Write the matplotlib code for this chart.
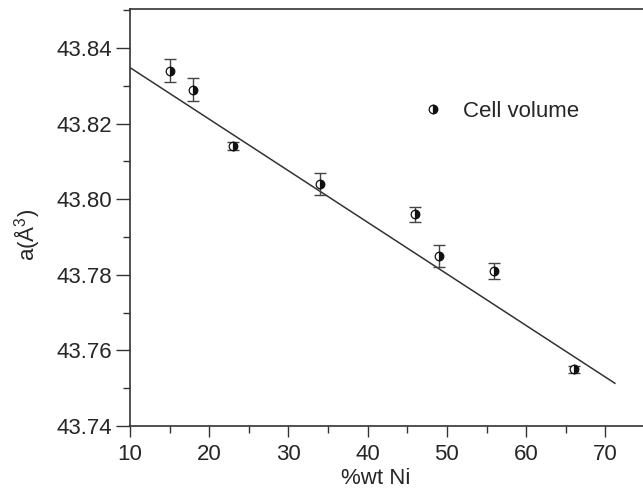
import matplotlib
matplotlib.use("Agg")
import matplotlib.pyplot as plt
from matplotlib.lines import Line2D
from matplotlib.ticker import MultipleLocator, FormatStrFormatter

# Data
ni_wt = [15, 18, 23, 34, 46, 49, 56, 66]
cell = [43.834, 43.829, 43.814, 43.804, 43.796, 43.785, 43.781, 43.755]
cell_err = [0.003, 0.003, 0.001, 0.003, 0.002, 0.003, 0.002, 0.001]
fit_x = [10, 71.2]
fit_y = [43.8348, 43.7513]

plt.rcParams['font.family'] = ['Liberation Sans', 'DejaVu Sans']
plt.rcParams['mathtext.fontset'] = 'custom'
plt.rcParams['mathtext.rm'] = 'Liberation Sans'
txt = '#262626'

fig = plt.figure(figsize=(6.43, 4.90), dpi=100)
ax = fig.add_axes([130/643, 64/490, 515/643, (426-9)/490])

ax.plot(fit_x, fit_y, color='#333333', lw=1.1, zorder=2)
ax.errorbar(ni_wt, cell, yerr=cell_err, fmt='none', ecolor='#444444',
            elinewidth=1.0, capsize=4.2, capthick=1.0, zorder=3)
ax.plot(ni_wt, cell, ls='none', marker='o', ms=6.2, fillstyle='right',
        markerfacecolor='#111111', markerfacecoloralt='white',
        markeredgecolor='#111111', markeredgewidth=0.9, zorder=4)

ax.set_xlim(10, 75)
ax.set_ylim(43.74, 43.8503)
ax.xaxis.set_major_locator(MultipleLocator(10))
ax.xaxis.set_minor_locator(MultipleLocator(5))
ax.yaxis.set_major_locator(MultipleLocator(0.02))
ax.yaxis.set_minor_locator(MultipleLocator(0.01))
ax.yaxis.set_major_formatter(FormatStrFormatter('%.2f'))

ax.tick_params(which='major', direction='out', length=10, width=1.0,
               color='#333333', labelsize=16, labelcolor=txt, pad=3)
ax.tick_params(axis='x', which='major', length=8, pad=5)
ax.tick_params(which='minor', direction='out', length=5, width=1.0,
               color='#333333')
ax.tick_params(top=False, right=False, which='both')
for s in ['left', 'bottom', 'top']:
    ax.spines[s].set_color('#333333')
    ax.spines[s].set_linewidth(1.2)
ax.spines['right'].set_visible(False)

ax.set_xlabel('%wt Ni', fontsize=16, color=txt)
ax.set_ylabel('a(Å$^\\mathregular{3}$)', fontsize=16, color=txt)
ax.xaxis.set_label_coords(0.478, -0.100)
ax.yaxis.set_label_coords(-0.171, 0.458)

handle = Line2D([], [], ls='none', marker='o', ms=6.2, fillstyle='right',
                markerfacecolor='#111111', markerfacecoloralt='white',
                markeredgecolor='#111111', markeredgewidth=0.9)
ax.legend([handle], ['Cell volume'], loc='center left',
          bbox_to_anchor=(415/643, 1 - 111/490), bbox_transform=fig.transFigure,
          frameon=False, fontsize=16, handlelength=1.6, handletextpad=0.55,
          borderpad=0, borderaxespad=0, labelcolor=txt)

fig.savefig('out.png', dpi=100)
